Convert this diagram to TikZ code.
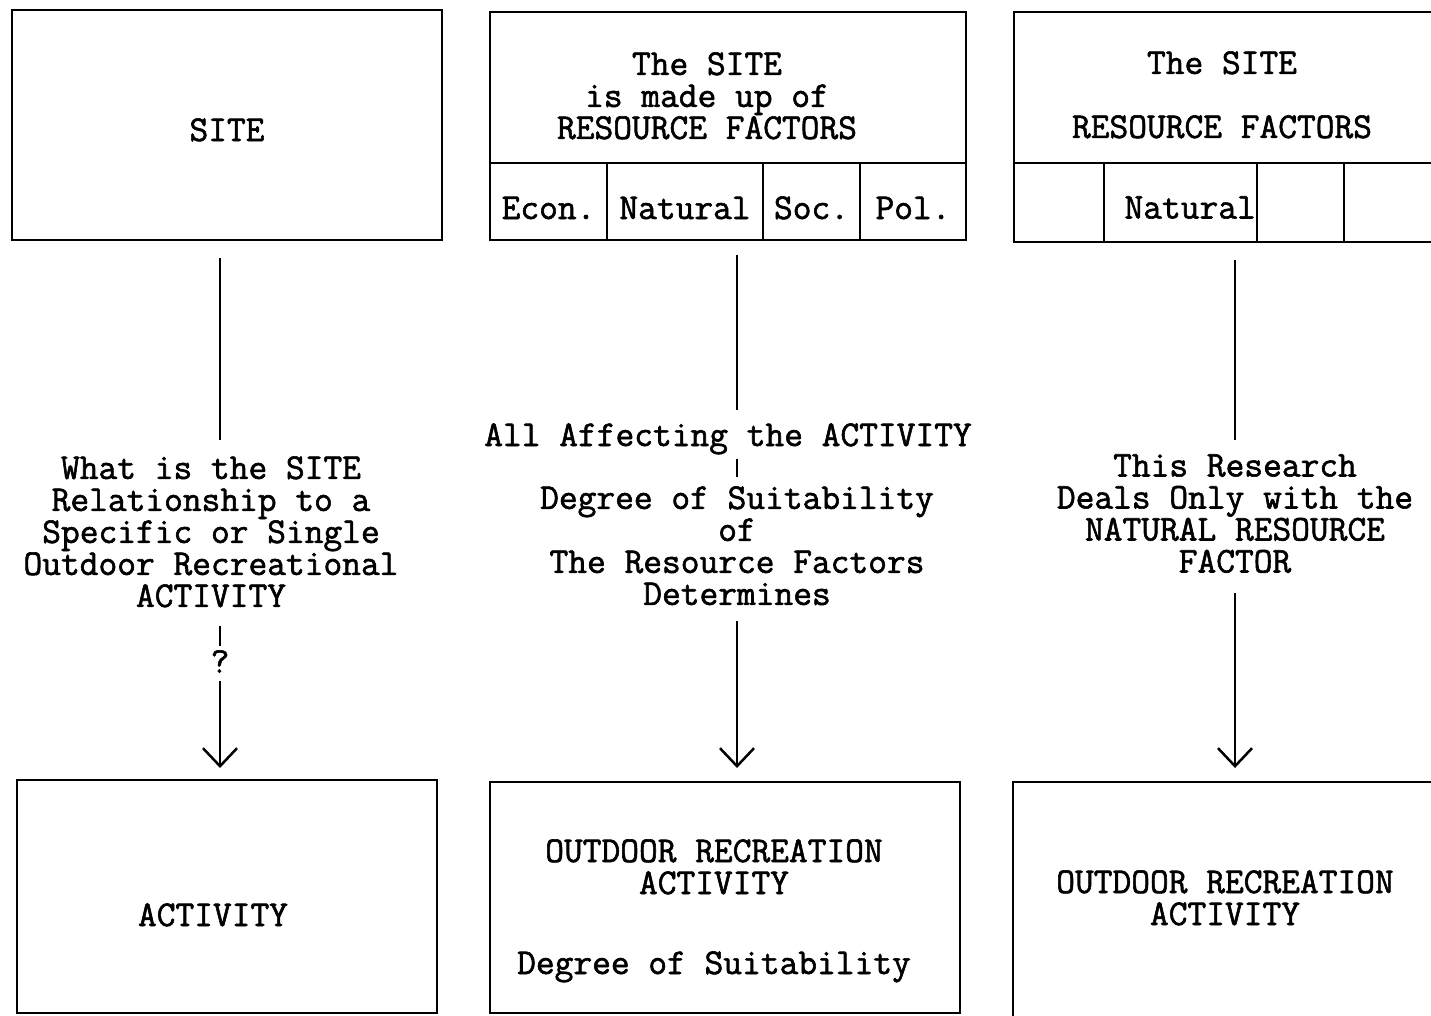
\documentclass[tikz,border=0pt]{standalone}
\usepackage{fontspec}
\newfontfamily\typer{Latin Modern Mono}[FakeBold=1.6]
\usetikzlibrary{arrows.meta}
\begin{document}
\begin{tikzpicture}[x=1pt,y=-1pt,line width=2.5pt,
    box/.style={draw,rectangle,line width=2.8pt,outer sep=0pt},
    cell/.style={box,minimum height=77pt,anchor=north west,text height=35pt,text depth=0pt},
    link/.style={line width=2.5pt},
    arrow/.style={link,-{Straight Barb[length=18pt,width=34pt]}}]
\tikzset{every node/.style={font=\fontsize{36.4}{32}\selectfont\typer,align=center,inner sep=0pt}}
\useasboundingbox (0,0) rectangle (1431,1015);
% first column
\node[box,minimum width=430pt,minimum height=230pt,text height=32pt,text depth=0pt] (site) at (227,125) {SITE};
\node[anchor=north] (q1) at (211,455) {What is the SITE\\Relationship to a\\Specific or Single\\Outdoor Recreational\\ACTIVITY};
\node[anchor=north] (qmark) at (220,649) {?};
\node[box,minimum width=420pt,minimum height=233pt] (act1) at (227,896.5) {};
\node[anchor=north] (act1t) at (213,902) {ACTIVITY};
\draw[link,shorten <=18pt,shorten >=15pt] (site.south -| qmark) -- (q1.north -| qmark);
\draw[link,shorten <=17pt,shorten >=3pt] (q1.south -| qmark) -- (qmark.north);
\draw[arrow,shorten <=7pt,shorten >=12pt] (qmark.south) -- (act1.north -| qmark);
% second column
\node[box,minimum width=476pt,minimum height=151pt] (res) at (728,87.5) {};
\node[anchor=north] (rest) at (707,51) {The SITE\\is made up of\\RESOURCE FACTORS};
\node[cell,minimum width=117pt] (econ) at (res.south west) {Econ.};
\node[cell,minimum width=156pt] (nat) at (econ.north east) {Natural};
\node[cell,minimum width=97pt] (soc) at (nat.north east) {Soc.};
\node[cell,minimum width=106pt] (pol) at (soc.north east) {Pol.};
\node[anchor=north] (all) at (728,422) {All Affecting the ACTIVITY};
\node[anchor=north] (deg) at (737,485) {Degree of Suitability\\of\\The Resource Factors\\Determines};
\node[box,minimum width=470pt,minimum height=231pt] (act2) at (725,897.5) {};
\node[anchor=north] (act2t) at (714,838) {OUTDOOR RECREATION\\ACTIVITY\\[48pt]Degree of Suitability};
\draw[link,shorten <=15pt,shorten >=12pt] (nat.south -| deg) -- (all.north -| deg);
\draw[link,shorten <=3pt,shorten >=8pt] (all.south -| deg) -- (deg.north);
\draw[arrow,shorten <=15pt,shorten >=14pt] (deg.south) -- (act2.north -| deg);
% third column
\node[box,minimum width=431pt,minimum height=151pt] (res3) at (1229.5,87.5) {};
\node[anchor=north] (res3t) at (1222,50) {The SITE\\[32pt]RESOURCE FACTORS};
\node[cell,minimum width=90pt,minimum height=79pt] (c1) at (res3.south west) {};
\node[cell,minimum width=153pt,minimum height=79pt,
      label={[anchor=east,inner sep=0pt,yshift=-5pt]east:Natural}] (c2) at (c1.north east) {};
\node[cell,minimum width=87pt,minimum height=79pt] (c3) at (c2.north east) {};
\node[cell,minimum width=100pt,minimum height=79pt] (c4) at (c3.north east) {};
\node[anchor=north] (nrf) at (1235,453) {This Research\\Deals Only with the\\NATURAL RESOURCE\\FACTOR};
\node[box,minimum width=432pt,minimum height=248pt] (act3) at (1229,906) {};
\node[anchor=north] (act3t) at (1225,869) {OUTDOOR RECREATION\\ACTIVITY};
\draw[link,shorten <=18pt,shorten >=13pt] (c2.south -| nrf) -- (nrf.north);
\draw[arrow,shorten <=19pt,shorten >=14pt] (nrf.south) -- (act3.north -| nrf);
\end{tikzpicture}
\end{document}
